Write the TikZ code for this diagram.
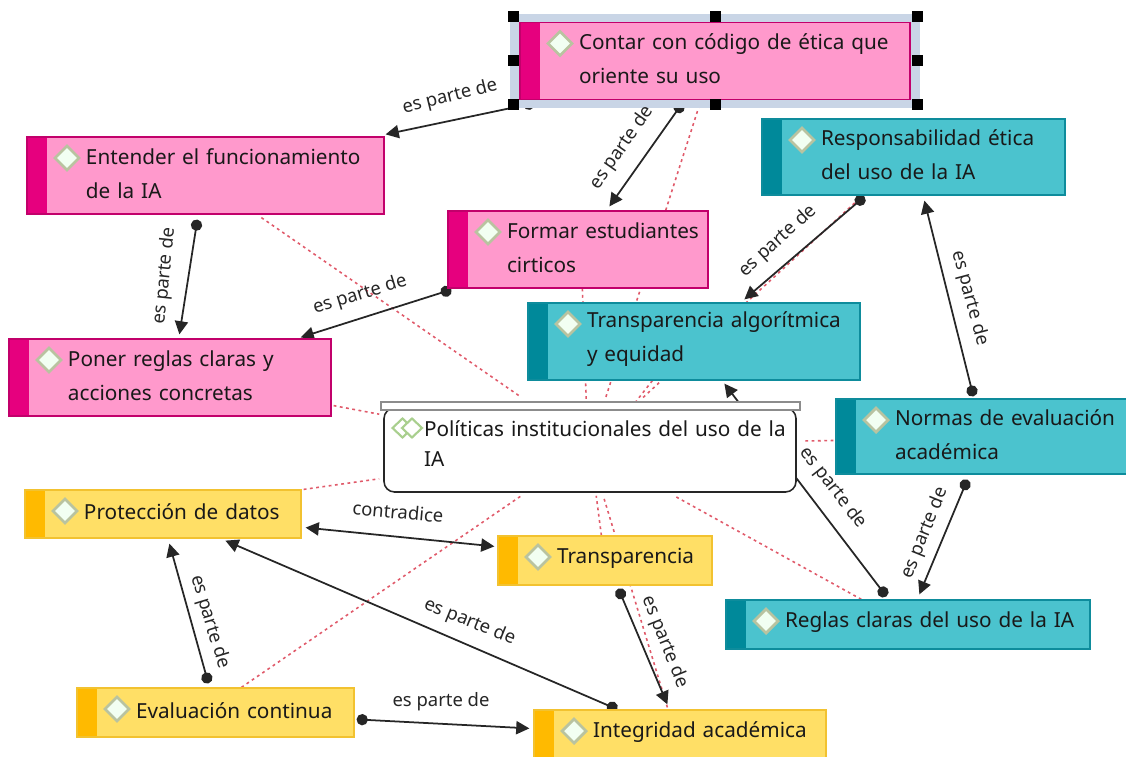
\documentclass[tikz,border=0pt]{standalone}
\usepackage{fontspec}
\setmainfont{Noto Sans}
\usetikzlibrary{arrows.meta,backgrounds}
\def\px{0.02cm}
\definecolor{rosa}{HTML}{FF99CC}
\definecolor{rosaB}{HTML}{E6007E}
\definecolor{rosaL}{HTML}{C2006B}
\definecolor{turq}{HTML}{4BC3CE}
\definecolor{turqB}{HTML}{00899A}
\definecolor{turqL}{HTML}{0E8C9C}
\definecolor{amar}{HTML}{FFDF66}
\definecolor{amarB}{HTML}{FFBA00}
\definecolor{amarL}{HTML}{F2C230}
\definecolor{punto}{HTML}{E05A6A}
\definecolor{gemaL}{HTML}{B9C3A0}
\definecolor{gemaV}{HTML}{A9CF8E}
\definecolor{seleccionC}{HTML}{C9D5E6}
\tikzset{
  caja/.style n args={5}{draw=#3, line width=0.7pt, fill=#1, minimum width=#4*\px, minimum height=#5*\px,
    inner xsep=0pt, inner ysep=0pt, text width=#4*\px, font=\fontsize{11.8}{19.2}\selectfont, text=black!90,
    execute at begin node={\raggedright\leftskip=59\dimexpr\px\relax},
    execute at end node={\par\vspace{2.4pt}},
    path picture={
      \fill[#2] (path picture bounding box.north west) rectangle ([xshift=20*\px]path picture bounding box.south west);
      \draw[draw=gemaL, line width=1.6pt, fill=white!95!green]
        ([shift={(28,21)}]path picture bounding box.north west) -- ++(12,-12) -- ++(12,12) -- ++(-12,12) -- cycle;
    }},
  rosabox/.style 2 args={caja={rosa}{rosaB}{rosaL}{#1}{#2}},
  turqbox/.style 2 args={caja={turq}{turqB}{turqL}{#1}{#2}},
  amarbox/.style 2 args={caja={amar}{amarB}{amarL}{#1}{#2}},
  parte/.style={line width=1pt, black!85, {Circle[length=6.4pt]}-{Triangle[length=7.5pt,width=7.5pt]}},
  ambos/.style={line width=1pt, black!85, {Triangle[length=7.5pt,width=7.5pt]}-{Triangle[length=7.5pt,width=7.5pt]}},
  enlace/.style={punto, line width=0.9pt, dash pattern=on 1.6pt off 2pt},
  rotulo/.style={font=\fontsize{10.5}{12}\selectfont, text=black!85, inner sep=0pt},
  asa/.style={fill=black, inner sep=0pt, minimum size=11*\px},
}
\begin{document}
\begin{tikzpicture}[x=\px,y=-\px]
  \useasboundingbox (0,0) rectangle (1126,757);

  \node[draw=seleccionC, fill=seleccionC, line width=6*\px, outer sep=0pt, minimum width=404*\px, minimum height=88*\px, inner sep=0pt] (seleccion) at (715,61) {};

  \node[rosabox={390}{77}] (etica) at (715,61) {Contar con código de ética que\\oriente su uso};
  \node[rosabox={357}{77}] (entender) at (205.5,175.5) {Entender el funcionamiento\\de la IA};
  \node[rosabox={260}{77}] (formar) at (578,249.5) {Formar estudiantes\\cirticos};
  \node[rosabox={322}{77}] (poner) at (170,377.5) {Poner reglas claras y\\acciones concretas};

  \node[turqbox={303}{76}] (resp) at (913.5,157) {Responsabilidad ética\\del uso de la IA};
  \node[turqbox={332}{77}] (algo) at (694,341.5) {Transparencia algorítmica\\y equidad};
  \node[turqbox={292}{75}] (normas) at (982,436.5) {Normas de evaluación\\académica};
  \node[turqbox={364}{49}] (reglas) at (908,624.5) {Reglas claras del uso de la IA};

  \node[amarbox={276}{48}] (datos) at (163,514) {Protección de datos};
  \node[amarbox={214}{49}] (transp) at (605,560.5) {Transparencia};
  \node[amarbox={277}{49}] (continua) at (215.5,712.5) {Evaluación continua};
  \node[amarbox={292}{49}] (integ) at (680,734.5) {Integridad académica};

  \node[draw=black!85, line width=0.9pt, fill=white, rounded corners=6pt, minimum width=412*\px, minimum height=84*\px,
    inner xsep=0pt, inner ysep=0pt, text width=412*\px, font=\fontsize{11.8}{17.5}\selectfont, text=black!90,
    execute at begin node={\raggedright\leftskip=40\dimexpr\px\relax},
    path picture={
      \draw[sharp corners, draw=gemaV, line width=1.2pt, fill=white]
        ([shift={(8.5,20)}]path picture bounding box.north west) -- ++(10,-9.5) -- ++(10,9.5) -- ++(-10,9.5) -- cycle;
      \draw[sharp corners, draw=gemaV, line width=1.2pt, fill=white]
        ([shift={(18,20)}]path picture bounding box.north west) -- ++(10,-9.5) -- ++(10,9.5) -- ++(-10,9.5) -- cycle;
    }] (politicas) at (590,450) {Políticas institucionales del uso de la\\IA\par\vspace{0.26cm}};
  \node[draw=black!45, line width=0.7pt, fill=white, minimum width=419*\px, minimum height=8*\px, inner sep=0pt] (barra) at (590.5,406) {};

  \begin{pgfonlayer}{background}
    \draw[enlace] ([shift={(235,3)}]entender.south west) -- ([shift={(138,-10)}]politicas.north west);
    \draw[enlace] ([shift={(2,-11)}]poner.south east) -- ([shift={(-4,7)}]politicas.north west);
    \draw[enlace] ([shift={(2,0)}]datos.north east) -- ([shift={(-4,-14)}]politicas.south west);
    \draw[enlace] ([shift={(165,0)}]continua.north west) -- ([shift={(138,3)}]politicas.south west);
    \draw[enlace] ([shift={(180,5)}]etica.south west) -- ([shift={(222,-8)}]politicas.north west);
    \draw[enlace] ([shift={(135,0)}]formar.south west) -- ([shift={(203,-8)}]politicas.north west);
    \draw[enlace] ([shift={(125,0)}]algo.south west) -- ([shift={(253,-6)}]politicas.north west);
    \draw[enlace] ([shift={(98,3)}]resp.south west) -- ([shift={(258,-8)}]politicas.north west);
    \draw[enlace] ([shift={(-2,4)}]normas.west) -- ([shift={(6,-9)}]politicas.east);
    \draw[enlace] ([shift={(136,0)}]reglas.north west) -- ([shift={(291,3)}]politicas.south west);
    \draw[enlace] ([shift={(104,0)}]transp.north west) -- ([shift={(213,3)}]politicas.south west);
    \draw[enlace] ([shift={(134,-2)}]integ.north west) -- ([shift={(220,3)}]politicas.south west);

    \draw[parte] ([shift={(15,3)}]etica.south west) -- ([shift={(1,-2)}]entender.north east);
    \draw[parte] ([shift={(163,3)}]etica.south west) -- ([shift={(162,-4)}]formar.north west);
    \draw[parte] ([shift={(171,5)}]entender.south west) -- ([shift={(171,-4)}]poner.north west);
    \draw[parte] ([shift={(4,1)}]formar.south west) -- ([shift={(-31,-1)}]poner.north east);
    \draw[parte] ([shift={(103,1)}]resp.south west) -- ([shift={(217,-3)}]algo.north west);
    \draw[parte] ([shift={(138,-2)}]normas.north west) -- ([shift={(163,5)}]resp.south west);
    \draw[parte] ([shift={(132,5)}]normas.south west) -- ([shift={(194,-5)}]reglas.north west);
    \draw[parte] ([shift={(161,-3)}]reglas.north west) -- ([shift={(197,3)}]algo.south west);
    \draw[parte] ([shift={(121,3)}]transp.south west) -- ([shift={(134,-5)}]integ.north west);
    \draw[parte] ([shift={(84,0)}]integ.north west) -- ([shift={(201,2)}]datos.south west);
    \draw[parte] ([shift={(132,-4)}]continua.north west) -- ([shift={(145,5)}]datos.south west);
    \draw[ambos] ([shift={(4,-11)}]datos.south east) -- ([shift={(-3,11)}]transp.north west);
    \draw[parte] ([shift={(2,32)}]continua.north east) -- ([shift={(-4,19)}]integ.north west);
  \end{pgfonlayer}

  \foreach \a in {north west,north,north east,west,east,south west,south,south east}
    \node[asa] (asa \a) at (seleccion.\a) {};

  \node[rotulo, rotate=14] (r1) at (450,97) {es parte de};
  \node[rotulo, rotate=55] (r2) at (622,148) {es parte de};
  \node[rotulo, rotate=84] (r3) at (165,276) {es parte de};
  \node[rotulo, rotate=17] (r4) at (360,295) {es parte de};
  \node[rotulo, rotate=42] (r5) at (778,241) {es parte de};
  \node[rotulo, rotate=-75] (r6) at (970,298) {es parte de};
  \node[rotulo, rotate=68] (r7) at (925,533) {es parte de};
  \node[rotulo, rotate=-52] (r8) at (833,488) {es parte de};
  \node[rotulo, rotate=-68] (r9) at (665,642) {es parte de};
  \node[rotulo, rotate=-22] (r10) at (470,622) {es parte de};
  \node[rotulo, rotate=-73] (r11) at (210,622) {es parte de};
  \node[rotulo, rotate=-5] (r12) at (398,512) {contradice};
  \node[rotulo] (r13) at (441,702) {es parte de};
\end{tikzpicture}
\end{document}
